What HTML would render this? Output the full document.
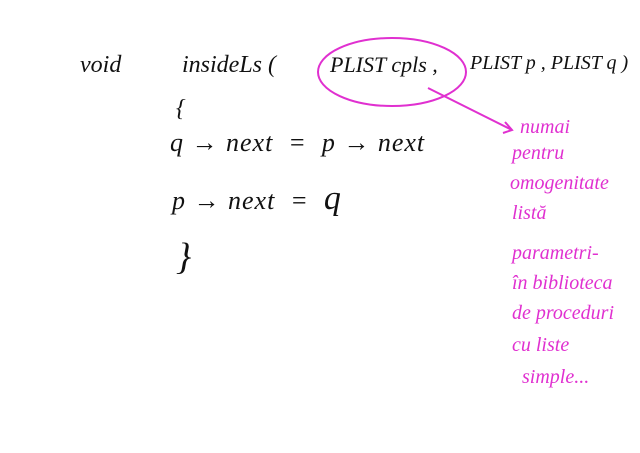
<!DOCTYPE html>
<html><head><meta charset="utf-8"><style>
body{margin:0;width:640px;height:453px;background:#fff;overflow:hidden;position:relative;font-family:"Liberation Serif",serif;font-style:italic}
.b{position:absolute;color:#111;font-size:24px;white-space:nowrap}
.m{position:absolute;color:#e030d0;font-size:20px;white-space:nowrap}
</style></head><body>
<div class="b" style="left:80px;top:52px">void</div>
<div class="b" style="left:182px;top:52px">insideLs (</div>
<div class="b" style="left:330px;top:52px;font-size:22px">PLIST cpls ,</div>
<div class="b" style="left:470px;top:52px;font-size:20px">PLIST p , PLIST q )</div>
<div class="b" style="left:176px;top:96px">{</div>
<div class="b" style="left:170px;top:128px;font-size:26px;letter-spacing:1px">q → next &nbsp;= &nbsp;p → next</div>
<div class="b" style="left:172px;top:180px;font-size:26px;letter-spacing:1px">p → next &nbsp;= &nbsp;<span style="font-size:34px">q</span></div>
<div class="b" style="left:176px;top:235px;font-size:38px">}</div>
<svg width="640" height="453" style="position:absolute;left:0;top:0">
<ellipse cx="392" cy="72" rx="74" ry="34" fill="none" stroke="#e030d0" stroke-width="2"/>
<line x1="428" y1="88" x2="512" y2="130" stroke="#e030d0" stroke-width="2"/>
<polyline points="505,122 512,130 503,133" fill="none" stroke="#e030d0" stroke-width="2"/>
</svg>
<div class="m" style="left:520px;top:116px">numai</div>
<div class="m" style="left:512px;top:142px">pentru</div>
<div class="m" style="left:510px;top:172px">omogenitate</div>
<div class="m" style="left:512px;top:202px">listă</div>
<div class="m" style="left:512px;top:242px">parametri-</div>
<div class="m" style="left:512px;top:272px">în biblioteca</div>
<div class="m" style="left:512px;top:302px">de proceduri</div>
<div class="m" style="left:512px;top:334px">cu liste</div>
<div class="m" style="left:522px;top:366px">simple...</div>
</body></html>
